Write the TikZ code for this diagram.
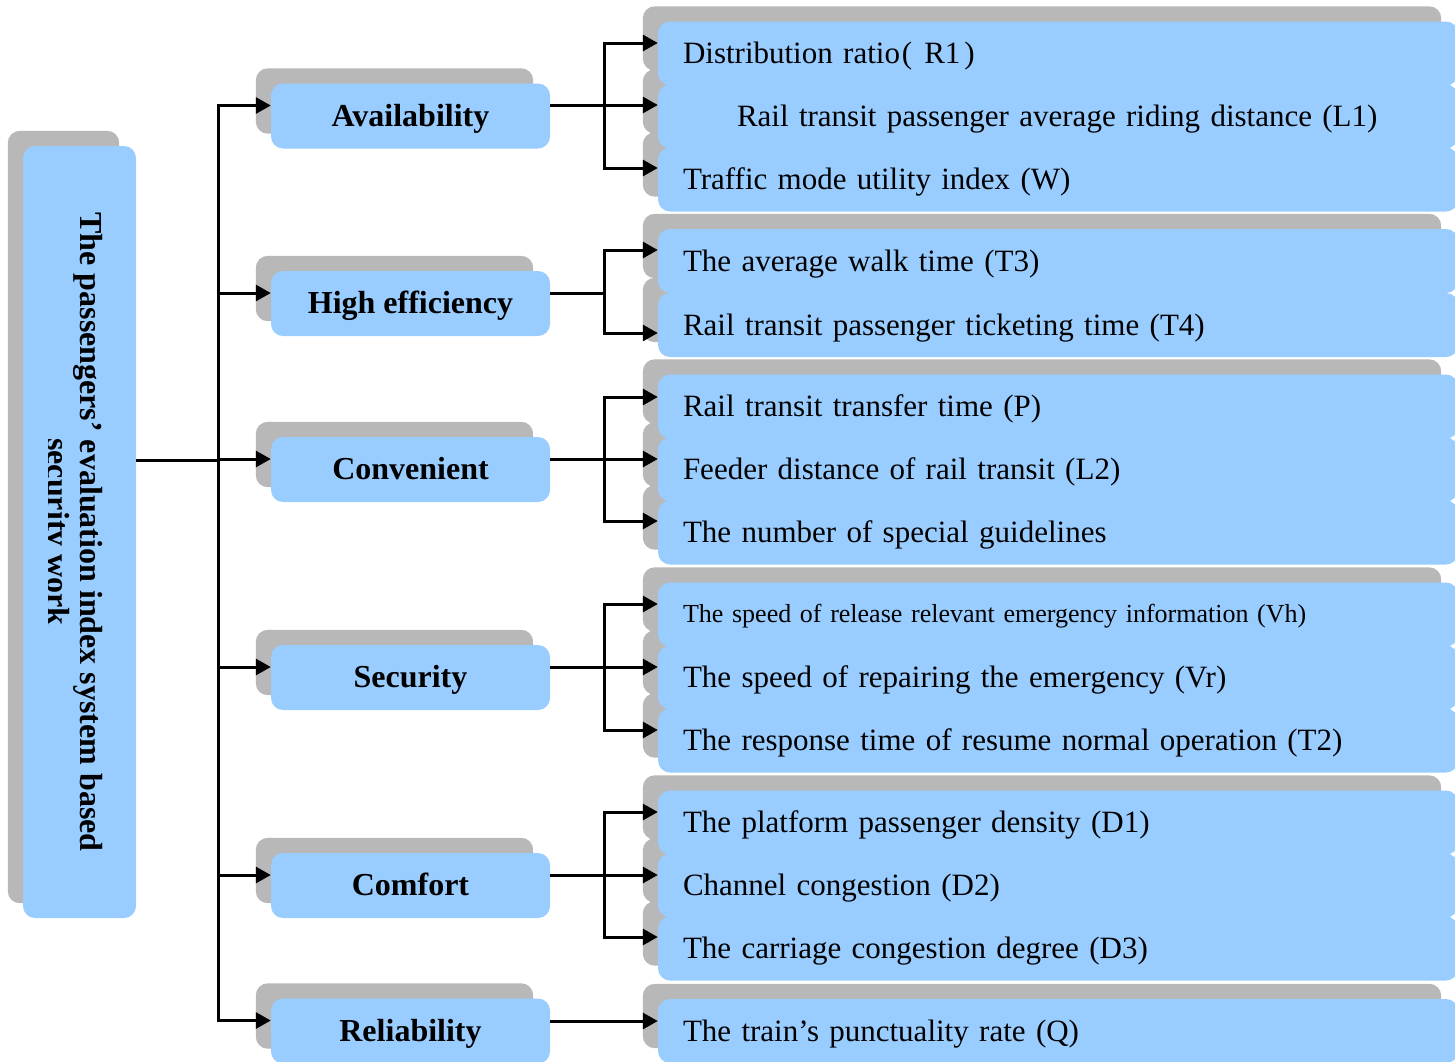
\documentclass[tikz,border=0pt]{standalone}
\usepackage{fontspec}
\setmainfont{Liberation Serif}
\usetikzlibrary{arrows.meta,backgrounds}
\definecolor{boxblue}{RGB}{153,204,255}
\definecolor{shadowc}{RGB}{184,184,184}
\tikzset{
  box/.style={fill=boxblue, draw=none, rounded corners=12pt, inner sep=0pt},
  rootbox/.style={box, minimum width=113pt, minimum height=772pt},
  roottext/.style={rotate=-90, align=center, inner sep=0pt, font=\bfseries\fontsize{32}{33}\selectfont},
  catbox/.style={box, minimum width=279pt, minimum height=65pt, text height=22pt, text depth=2pt, font=\bfseries\fontsize{32}{36}\selectfont},
  leafbox/.style={box, minimum height=64pt, text width=750pt, inner xsep=25pt, inner ysep=0pt, align=left, text height=22pt, text depth=2pt, font=\fontsize{31}{36}\selectfont},
  smallleaf/.style={text height=20pt, text depth=4pt, font=\fontsize{26}{30}\selectfont},
  conn/.style={line width=3pt, black},
  arr/.style={conn, -{Triangle[length=15pt,width=16pt]}},
  shadowbox/.style={fill=shadowc, rounded corners=12pt}
}
\begin{document}
\begin{tikzpicture}[x=1pt,y=-1pt]
\useasboundingbox (0,0) rectangle (1455,1061);
% root
\node[rootbox] (root) at (79.5,532) {};
\begin{scope}
\clip (48,146) rectangle (136,918);
\node[roottext] (title) at (72,532) {The passengers’ evaluation index system based\\security work};
\end{scope}
% categories
\node[catbox] (avail) at (410.5,116) {Availability};
\node[catbox] (eff) at (410.5,303.5) {High efficiency};
\node[catbox] (conv) at (410.5,469.5) {Convenient};
\node[catbox] (sec) at (410.5,677.5) {Security};
\node[catbox] (comf) at (410.5,885.5) {Comfort};
\node[catbox] (rel) at (410.5,1031) {Reliability};
% leaves
\node[leafbox] (a1) at (1058,53.5) {Distribution ratio\hspace{2pt}(\hspace{12pt}R1\hspace{4pt})};
\node[leafbox] (a2) at (1058,116.5) {\hspace*{54pt}Rail transit passenger average riding distance (L1)};
\node[leafbox] (a3) at (1058,179.5) {Traffic mode utility index (W)};
\node[leafbox] (e1) at (1058,261) {The average walk time (T3)};
\node[leafbox] (e2) at (1058,325) {Rail transit passenger ticketing time (T4)};
\node[leafbox] (c1) at (1058,406.5) {Rail transit transfer time (P)};
\node[leafbox] (c2) at (1058,469.5) {Feeder distance of rail transit (L2)};
\node[leafbox] (c3) at (1058,532.5) {The number of special guidelines};
\node[leafbox, smallleaf] (s1) at (1058,614.5) {The speed of release relevant emergency information (Vh)};
\node[leafbox] (s2) at (1058,677.5) {The speed of repairing the emergency (Vr)};
\node[leafbox] (s3) at (1058,740.5) {The response time of resume normal operation (T2)};
\node[leafbox] (m1) at (1058,822.5) {The platform passenger density (D1)};
\node[leafbox] (m2) at (1058,885.5) {Channel congestion (D2)};
\node[leafbox] (m3) at (1058,948.5) {The carriage congestion degree (D3)};
\node[leafbox] (r1) at (1058,1031) {The train’s punctuality rate (Q)};
% shadows
\begin{pgfonlayer}{background}
\foreach \n in {root,avail,eff,conv,sec,comf,rel,a1,a2,a3,e1,e2,c1,c2,c3,s1,s2,s3,m1,m2,m3,r1}{
  \fill[shadowbox] ([shift={(-15pt,15pt)}]\n.south west) rectangle ([shift={(-17pt,15pt)}]\n.north east);
}
\end{pgfonlayer}
% root connectors
\coordinate (rbus) at (218,460);
\draw[conn] (root.east |- rbus) -- (rbus);
\foreach \n in {avail,eff,conv,sec,comf,rel}{
  \draw[arr] (rbus) |- ([yshift=10.5pt]\n.west);
}
% group 1
\coordinate (b1) at (604,105);
\draw[conn] (avail.east |- b1) -- (b1);
\draw[arr] (b1) |- (a1.west |- 0,43);
\draw[arr] (b1) -- (a2.west |- b1);
\draw[arr] (b1) |- (a3.west |- 0,168);
% group 2
\coordinate (b2) at (604,293);
\draw[conn] (eff.east |- b2) -- (b2);
\draw[arr] (b2) |- (e1.west |- 0,250);
\draw[arr] (b2) |- (e2.west |- 0,333);
% group 3
\coordinate (b3) at (604,459);
\draw[conn] (conv.east |- b3) -- (b3);
\draw[arr] (b3) |- (c1.west |- 0,397);
\draw[arr] (b3) -- (c2.west |- b3);
\draw[arr] (b3) |- (c3.west |- 0,521);
% group 4
\coordinate (b4) at (604,667);
\draw[conn] (sec.east |- b4) -- (b4);
\draw[arr] (b4) |- (s1.west |- 0,604);
\draw[arr] (b4) -- (s2.west |- b4);
\draw[arr] (b4) |- (s3.west |- 0,730);
% group 5
\coordinate (b5) at (604,875);
\draw[conn] (comf.east |- b5) -- (b5);
\draw[arr] (b5) |- (m1.west |- 0,812);
\draw[arr] (b5) -- (m2.west |- b5);
\draw[arr] (b5) |- (m3.west |- 0,937);
% group 6
\draw[arr] (rel.east |- 0,1021) -- (r1.west |- 0,1021);
\end{tikzpicture}
\end{document}
